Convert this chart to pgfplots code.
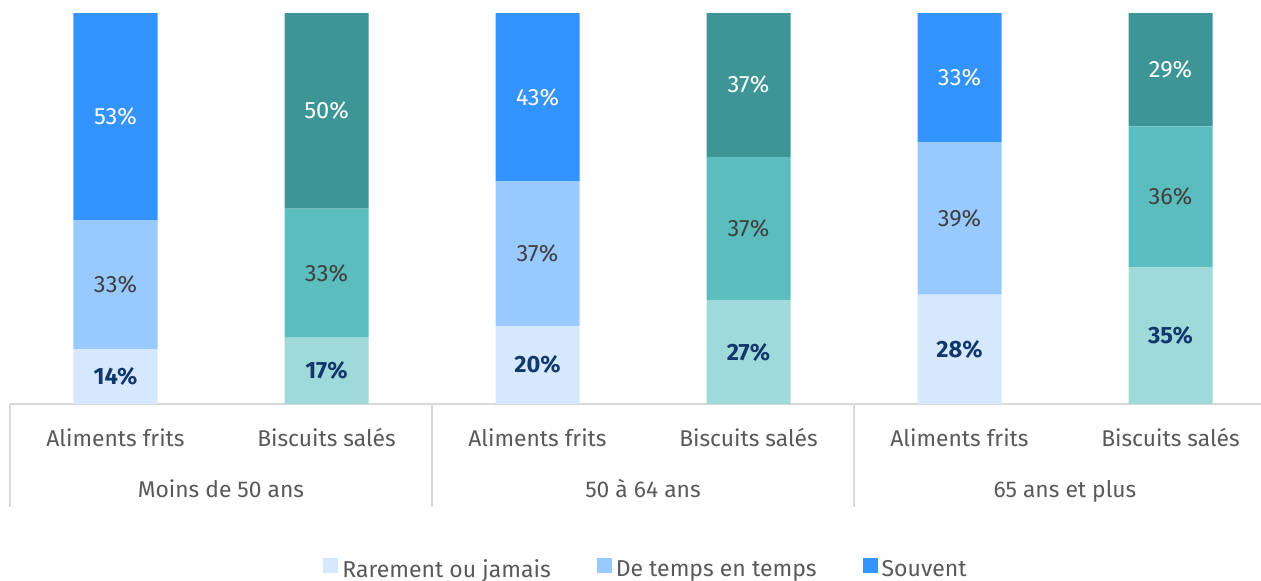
\documentclass[border=0pt]{standalone}
\usepackage{pgfplots}
\pgfplotsset{compat=1.18}
\usepackage{fontspec}
\setmainfont{Fira Sans}
\definecolor{bA}{HTML}{D5E8FE}
\definecolor{bB}{HTML}{99CAFF}
\definecolor{bC}{HTML}{3393FF}
\definecolor{tA}{HTML}{9FD9DA}
\definecolor{tB}{HTML}{5BBDBE}
\definecolor{tC}{HTML}{3D9695}
\definecolor{navy}{HTML}{12386B}
\definecolor{midtxt}{HTML}{404040}
\definecolor{lblgray}{HTML}{595959}
\definecolor{sepgray}{HTML}{D9D9D9}
\begin{document}
\begin{tikzpicture}
\begin{axis}[
  scale only axis, width=633pt, height=195.5pt,
  xmin=-0.5, xmax=5.5, ymin=0, ymax=100,
  ybar stacked, bar width=42pt,
  axis y line=none, axis x line*=bottom,
  x axis line style={draw=sepgray, line width=0.75pt},
  xtick={0,...,5}, major tick length=0pt,
  xticklabels={Aliments frits, Biscuits salés, Aliments frits, Biscuits salés, Aliments frits, Biscuits salés},
  xticklabel style={anchor=base, yshift=-21pt, font=\fontsize{11.4}{13}\selectfont, text=lblgray},
  clip=false,
  point meta=explicit symbolic,
  nodes near coords,
  every node near coord/.append style={anchor=center, font=\fontsize{11.8}{13}\selectfont},
  legend style={at={(rel axis cs:0.5,0)}, anchor=center, yshift=-83pt, xshift=2pt, draw=none, legend columns=3,
    font=\fontsize{11.5}{13}\selectfont, text=lblgray,
    /tikz/every even column/.append style={column sep=21pt}},
  legend image code/.code={\fill[#1] (0pt,-1.5pt) rectangle (7.5pt,6pt);},
]
\addplot[forget plot, fill=bA, draw=none, every node near coord/.append style={font=\fontsize{11.8}{13}\selectfont\bfseries, text=navy}]
  coordinates {(0,14)[14\%] (1,0)[] (2,20)[20\%] (3,0)[] (4,28)[28\%] (5,0)[]};
\addplot[forget plot, fill=tA, draw=none, every node near coord/.append style={font=\fontsize{11.8}{13}\selectfont\bfseries, text=navy}]
  coordinates {(0,0)[] (1,17)[17\%] (2,0)[] (3,26.6)[27\%] (4,0)[] (5,35)[35\%]};
\addplot[forget plot, fill=bB, draw=none, every node near coord/.append style={text=midtxt}]
  coordinates {(0,33)[33\%] (1,0)[] (2,37)[37\%] (3,0)[] (4,39)[39\%] (5,0)[]};
\addplot[forget plot, fill=tB, draw=none, every node near coord/.append style={text=midtxt}]
  coordinates {(0,0)[] (1,33)[33\%] (2,0)[] (3,36.6)[37\%] (4,0)[] (5,36)[36\%]};
\addplot[forget plot, fill=bC, draw=none, every node near coord/.append style={text=white}]
  coordinates {(0,53)[53\%] (1,0)[] (2,43)[43\%] (3,0)[] (4,33)[33\%] (5,0)[]};
\addplot[forget plot, fill=tC, draw=none, every node near coord/.append style={text=white}]
  coordinates {(0,0)[] (1,50)[50\%] (2,0)[] (3,36.8)[37\%] (4,0)[] (5,29)[29\%]};
\addlegendimage{fill=bA, draw=none}
\addlegendentry{Rarement ou jamais}
\addlegendimage{fill=bB, draw=none}
\addlegendentry{De temps en temps}
\addlegendimage{fill=bC, draw=none}
\addlegendentry{Souvent}
\draw[sepgray, line width=0.75pt] (axis cs:-0.5,0) -- ++(0pt,-51.5pt);
\draw[sepgray, line width=0.75pt] (axis cs:1.5,0) -- ++(0pt,-51.5pt);
\draw[sepgray, line width=0.75pt] (axis cs:3.5,0) -- ++(0pt,-51.5pt);
\draw[sepgray, line width=0.75pt] (axis cs:5.5,0) -- ++(0pt,-51.5pt);
\node[anchor=base, yshift=-46.5pt, text=lblgray, font=\fontsize{11.4}{13}\selectfont] at (axis cs:0.5,0) {Moins de 50 ans};
\node[anchor=base, yshift=-46.5pt, text=lblgray, font=\fontsize{11.4}{13}\selectfont] at (axis cs:2.5,0) {50 à 64 ans};
\node[anchor=base, yshift=-46.5pt, text=lblgray, font=\fontsize{11.4}{13}\selectfont] at (axis cs:4.5,0) {65 ans et plus};
\coordinate (bl) at (rel axis cs:0,0);
\coordinate (tl) at (rel axis cs:0,1);
\end{axis}
\pgfresetboundingbox
\path[use as bounding box] ([xshift=-5pt,yshift=-88pt]bl) rectangle ([xshift=625.5pt,yshift=6.5pt]tl);
\end{tikzpicture}
\end{document}
